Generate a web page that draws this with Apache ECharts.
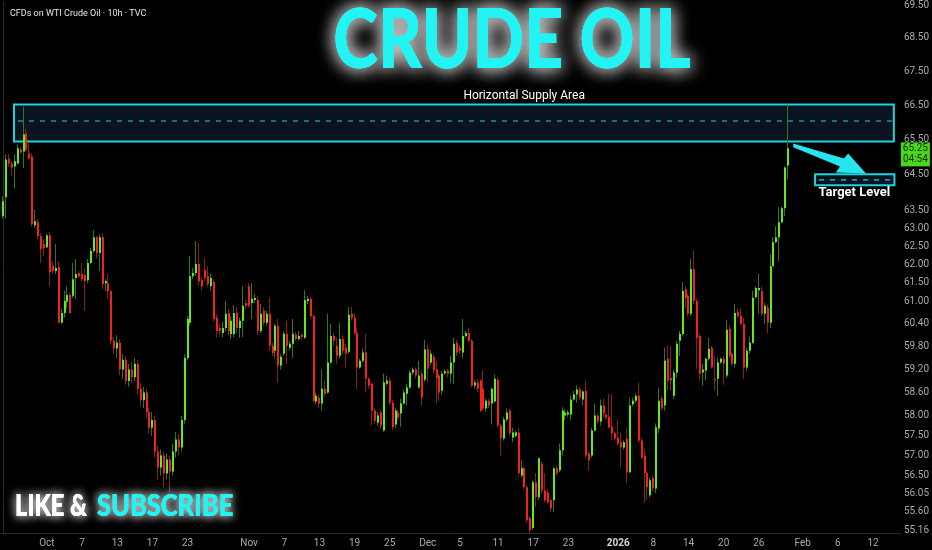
<!DOCTYPE html>
<html><head><meta charset="utf-8">
<script src="https://cdn.jsdelivr.net/npm/echarts@6/dist/echarts.min.js"></script>
<style>html,body{margin:0;padding:0;background:#000;}#c{width:932px;height:550px;}</style>
</head><body><div id="c"></div>
<script>
// ---- data (WTI 10h candles, prices) ----
const opens = [63.33,63.86,64.96,64.82,64.73,64.82,65.22,65.16,65.68,65.10,65.02,63.08,63.16,62.78,62.56,62.47,62.80,61.96,61.82,61.93,60.43,60.69,60.99,61.17,61.15,61.63,61.77,61.74,61.71,61.57,62.04,62.37,62.75,62.31,62.75,61.49,61.49,61.28,59.95,59.75,59.90,59.20,59.45,58.90,59.20,59.00,59.35,58.70,58.40,58.60,58.10,57.70,57.90,57.10,56.70,57.00,56.55,56.90,56.60,57.10,57.40,57.20,57.90,59.50,60.43,61.68,61.77,62.01,61.57,61.85,61.68,61.41,61.52,60.56,60.29,60.16,60.29,60.69,60.13,60.13,60.69,60.29,60.48,60.96,61.41,60.96,61.04,61.04,60.21,60.75,60.43,60.67,59.82,59.69,60.35,59.30,59.61,60.14,59.77,59.87,60.11,60.00,60.11,60.03,61.01,61.07,60.61,58.37,58.47,58.32,58.70,58.60,59.38,60.08,59.82,59.56,60.00,59.77,59.66,60.67,60.56,60.16,59.25,59.43,59.64,58.96,58.83,58.14,57.83,58.09,57.63,58.83,58.91,58.34,57.78,58.09,58.06,58.32,58.57,58.73,59.12,59.20,58.73,59.09,58.93,59.74,59.38,59.53,59.20,59.04,58.65,59.10,59.17,59.09,59.38,59.90,59.77,59.64,60.08,60.16,59.95,58.78,58.86,58.91,58.70,58.19,58.39,58.32,58.37,58.93,57.76,57.43,57.91,58.14,57.45,57.50,57.58,56.50,56.68,56.21,55.45,55.21,56.33,55.96,56.80,56.13,56.08,55.89,55.89,56.68,56.63,57.13,58.01,58.04,58.04,58.42,58.55,58.68,58.42,58.65,57.05,57.00,57.63,58.01,57.86,58.27,58.04,57.98,57.73,57.56,57.45,57.33,57.20,57.43,56.58,58.30,58.39,58.52,57.38,57.00,56.56,56.01,56.43,56.18,57.68,58.45,58.27,59.48,58.98,58.52,59.12,59.95,60.13,61.33,61.15,60.67,61.87,61.01,60.08,59.12,59.17,59.48,59.77,58.96,58.96,59.38,59.48,59.04,60.27,59.61,59.35,60.72,60.61,60.40,59.25,59.69,59.90,61.12,61.30,61.28,60.67,60.83,60.43,61.95,62.61,62.75,63.16,63.55,64.76];
const closes = [63.75,64.93,64.82,64.70,64.88,65.25,65.13,65.65,65.22,64.96,63.11,63.19,62.78,62.42,62.45,62.80,61.79,61.82,61.90,60.43,60.69,61.01,61.17,60.69,61.60,61.74,61.68,61.60,61.55,62.04,62.37,62.75,62.31,62.75,61.47,61.55,61.28,59.95,59.75,59.90,59.20,59.45,58.90,59.20,59.00,59.35,58.70,58.40,58.60,58.10,57.70,57.90,57.10,56.70,57.00,56.55,56.90,56.60,57.10,57.40,57.20,57.90,59.50,60.53,61.68,61.77,62.01,61.55,61.41,61.63,61.47,61.63,60.53,60.21,60.21,60.29,60.67,60.21,60.48,60.69,60.29,60.48,60.88,60.88,60.88,61.07,61.09,60.21,60.67,60.43,60.67,59.82,59.63,60.35,59.30,59.53,60.14,59.82,59.87,60.14,60.00,60.08,60.05,61.04,61.07,60.61,58.39,58.52,58.32,58.70,58.57,59.38,60.08,59.95,59.56,60.00,59.69,59.61,60.64,60.56,60.16,59.25,59.43,59.64,58.96,58.78,58.14,57.88,58.01,57.76,58.86,58.91,58.34,57.71,58.14,57.96,58.32,58.60,58.73,59.12,59.20,59.04,59.04,58.47,59.72,59.22,59.61,59.17,58.98,58.60,59.09,59.15,59.09,59.38,59.87,59.64,59.69,60.08,60.16,59.95,58.78,58.86,58.70,58.14,58.19,58.39,58.27,58.70,58.96,57.76,57.43,57.91,58.09,57.56,57.58,57.58,56.56,56.68,56.21,55.40,55.16,56.33,55.96,56.93,56.13,55.89,55.84,55.69,56.68,56.56,57.13,58.14,58.09,58.09,58.42,58.55,58.68,58.47,58.63,57.00,56.88,57.63,58.01,57.86,58.27,58.06,57.96,57.71,57.56,57.43,57.30,57.20,57.33,56.58,58.27,58.39,58.52,57.38,56.95,56.56,56.21,56.38,56.18,57.71,58.39,58.19,59.43,58.91,58.91,59.12,59.87,60.13,61.28,61.09,60.67,61.87,61.01,60.03,59.09,59.20,59.48,59.74,59.25,58.91,59.38,59.48,59.35,60.24,59.56,59.35,60.69,60.61,60.40,59.25,59.69,59.90,61.10,61.36,61.36,60.67,60.88,60.43,61.95,62.61,62.75,63.16,63.55,64.70,65.25];
const lows = [63.27,63.27,64.73,64.45,64.11,64.79,65.08,64.68,65.16,64.93,63.05,63.00,62.69,62.04,62.23,62.45,61.41,61.74,61.74,60.43,60.40,60.56,60.82,60.67,61.09,61.07,61.63,61.55,60.75,61.49,62.01,62.31,62.17,61.82,61.33,61.28,61.07,59.85,59.60,59.50,59.05,58.95,58.80,58.75,58.85,58.90,58.55,58.25,58.20,57.95,57.55,57.50,56.95,56.40,56.50,56.20,56.40,56.10,56.50,56.95,57.00,57.10,57.80,59.45,60.35,61.60,61.70,61.45,61.30,61.55,61.40,61.30,60.45,60.05,60.10,60.05,60.20,60.10,60.00,60.05,60.15,60.03,60.05,60.80,60.82,60.53,60.95,60.10,60.15,60.35,60.35,59.69,59.55,59.50,58.86,59.20,59.55,59.35,59.70,59.50,59.95,59.95,59.98,60.00,60.93,60.55,58.34,58.30,58.19,58.14,58.52,58.57,59.35,59.82,59.35,59.50,59.60,59.25,59.61,60.48,60.11,58.70,59.22,59.38,58.60,58.70,57.76,57.80,57.75,57.68,57.60,58.78,58.28,57.65,57.70,57.90,57.71,58.28,58.27,58.70,59.05,58.98,58.70,58.27,58.88,58.86,59.30,59.10,58.32,58.39,58.55,59.05,59.00,58.86,58.83,59.55,59.60,59.50,60.03,59.90,58.73,58.70,58.60,58.10,58.14,58.10,58.20,57.78,58.34,57.70,57.00,57.38,57.85,57.50,57.33,57.45,56.50,56.45,56.15,55.35,55.09,55.16,55.72,55.89,56.05,55.84,55.80,55.60,55.60,56.50,56.58,57.00,57.90,57.98,57.88,58.39,58.34,58.40,58.27,56.95,56.63,56.95,57.60,57.80,57.76,57.96,57.90,57.68,57.38,57.38,57.25,56.70,57.15,56.31,56.56,58.24,58.34,57.33,56.90,55.82,55.89,55.96,56.10,56.06,57.56,58.14,58.14,58.65,58.65,58.45,58.98,59.56,60.08,60.82,60.60,60.61,60.93,59.22,58.91,58.78,58.91,59.43,59.22,58.65,58.52,59.35,58.80,58.98,59.50,59.30,59.25,60.55,60.35,58.96,59.17,59.61,59.87,61.07,60.67,60.61,60.40,60.16,60.29,61.95,62.58,62.09,63.13,63.33,64.36];
const highs = [63.89,65.08,65.08,64.88,65.08,65.36,65.30,66.46,65.82,65.39,65.10,63.52,63.25,62.86,62.69,62.83,62.89,62.09,62.56,62.09,60.80,61.28,61.41,61.23,62.04,62.15,61.82,62.04,61.90,62.15,62.45,62.94,62.78,62.83,62.86,61.60,61.74,61.30,60.05,60.10,60.00,59.60,59.55,59.35,59.40,59.50,59.45,58.85,58.75,58.70,58.20,58.10,58.00,57.25,57.15,57.10,57.05,57.00,57.30,57.60,57.55,58.00,59.60,60.60,62.23,61.90,62.64,62.58,61.65,62.17,61.95,61.75,61.60,60.65,60.40,60.45,61.01,60.80,60.60,60.90,60.85,60.56,61.41,61.05,61.49,61.49,61.20,61.15,60.93,60.85,60.75,61.09,59.90,60.40,60.53,59.60,60.20,60.48,59.95,60.53,60.20,60.21,60.15,61.30,61.15,61.12,60.65,58.60,58.55,59.20,58.91,60.67,60.40,60.16,60.03,60.43,60.10,59.87,60.85,60.85,60.67,60.29,59.48,59.74,60.14,59.00,58.86,58.20,58.10,58.15,59.09,59.04,59.00,58.40,58.20,58.15,58.45,58.68,58.83,59.17,59.25,59.25,59.43,59.17,59.98,59.85,59.70,59.60,59.43,59.08,59.15,59.20,59.22,59.56,60.03,59.98,59.85,60.53,60.21,60.29,60.00,58.93,58.95,58.95,59.17,58.45,58.45,58.73,59.06,59.00,57.80,57.98,58.19,58.19,57.70,57.63,57.70,56.88,56.73,56.25,55.50,56.38,56.56,56.95,56.85,56.56,56.15,55.93,56.70,56.75,57.30,58.22,58.17,58.15,58.52,58.65,58.78,58.75,58.65,58.91,57.10,57.70,58.32,58.06,58.42,58.45,58.06,58.57,58.55,57.60,57.91,57.58,57.38,57.68,58.47,58.47,58.57,58.86,57.45,57.18,56.60,56.45,56.50,57.81,58.73,58.52,59.77,59.82,59.82,59.20,59.95,60.21,61.52,61.41,61.20,62.15,62.37,61.07,60.14,59.35,59.51,60.03,59.82,59.56,59.51,59.51,59.56,60.51,60.35,59.65,60.93,60.80,60.82,60.56,59.77,60.08,61.28,61.41,61.74,61.41,60.96,60.93,62.28,62.75,63.05,63.58,63.61,64.73,66.52];
const slotCount = 307;                       // bar slots incl. future space
const xTickIndex = [15,27,39,51,63,84,96,108,120,132,145,156,169,181,193,210,222,234,246,258,273,285,297];
const xTickText  = ['Oct','7','13','17','23','Nov','7','13','19','25','Dec','5','11','17','23','2026','8','14','20','26','Feb','6','12'];
const yTickValues = [69.5,68.5,67.5,66.5,65.5,64.5,63.5,63.0,62.5,62.0,61.5,61.0,60.4,59.8,59.2,58.6,58.0,57.5,57.0,56.5,56.05,55.6,55.16];
const yRange = [55.088, 69.59];
const lastPrice = 65.25, countdown = '04:54';
const supplyZone = {x0: 3.75, x1: 304.1, top: 66.52, bottom: 65.45, mid: 66.04};
const targetZone = {x0: 277.2, x1: 304.3, top: 64.51, bottom: 64.20, mid: 64.35};
const supplyLabel = {x: 177.9, p: 66.78, text: 'Horizontal Supply Area'};
const targetLabel = {x: 290.6, p: 64.00, text: 'Target Level'};
const arrowPts = [[269.75,65.39],[287.1,64.96],[288.5,65.10],[294.6,64.53],[284.3,64.56],[285.7,64.73],[269.75,65.28]];

// ---- build ----
const L = Math.log;
const cats = Array.from({length: slotCount}, (_, i) => String(i));
const tickMap = {}; xTickIndex.forEach((k, j) => tickMap[k] = xTickText[j]);
const candleData = opens.map((o, i) => [i, L(o), L(closes[i]), L(lows[i]), L(highs[i])]);
const CYAN = '#1fd3dc';
const BODY_UP = '#62ea1c', BODY_DN = '#f5221b', WICK_UP = '#2f7a17', WICK_DN = '#86201a';

function candleItem(params, api) {
  const i = api.value(0);
  const o = api.value(1), c = api.value(2);
  const po = api.coord([i, o]), pc = api.coord([i, c]);
  const pl = api.coord([i, api.value(3)]), ph = api.coord([i, api.value(4)]);
  const up = c >= o;
  const cx = Math.round(po[0]);
  const top = Math.min(po[1], pc[1]), bot = Math.max(po[1], pc[1]);
  return {type: 'group', children: [
    {type: 'rect', shape: {x: cx - 1, y: ph[1], width: 1, height: Math.max(1, pl[1] - ph[1])}, style: {fill: up ? WICK_UP : WICK_DN}},
    {type: 'rect', shape: {x: cx - 1, y: top, width: 2, height: Math.max(1, bot - top)}, style: {fill: up ? BODY_UP : BODY_DN}}
  ]};
}
function zoneItem(z) {
  return function (params, api) {
    const a = api.coord([z.x0, L(z.top)]), b = api.coord([z.x1, L(z.bottom)]);
    const m = api.coord([z.x0, L(z.mid)]);
    return {type: 'group', children: [
      {type: 'rect', shape: {x: a[0], y: a[1], width: b[0] - a[0], height: b[1] - a[1]}, style: {fill: '#0b1320', stroke: CYAN, lineWidth: 2}},
      {type: 'line', shape: {x1: a[0] + 4, y1: m[1], x2: b[0] - 2, y2: m[1]}, style: {stroke: CYAN, lineWidth: 1.2, lineDash: [5, 6]}}
    ]};
  };
}
function textItem(t, size, weight) {
  return function (params, api) {
    const p = api.coord([t.x, L(t.p)]);
    return {type: 'text', x: p[0], y: p[1], style: {text: t.text, fill: '#ffffff', font: weight + ' ' + size + 'px Roboto', textAlign: 'center', textVerticalAlign: 'middle'}};
  };
}
function arrowItem(params, api) {
  const pts = arrowPts.map(q => api.coord([q[0], L(q[1])]));
  return {type: 'polygon', shape: {points: pts}, style: {fill: '#25e6ee'}};
}
function tagItem(params, api) {
  const p = api.coord([slotCount - 0.5, L(lastPrice)]);
  return {type: 'group', children: [
    {type: 'rect', shape: {x: p[0], y: p[1] - 6, width: 29, height: 24}, style: {fill: '#4bd61a'}},
    {type: 'text', x: p[0] + 14.5, y: p[1], style: {text: lastPrice.toFixed(2), fill: '#0d2a06', font: '10px Roboto', textAlign: 'center', textVerticalAlign: 'middle'}},
    {type: 'text', x: p[0] + 14.5, y: p[1] + 11, style: {text: countdown, fill: '#0d2a06', font: '10px Roboto', textAlign: 'center', textVerticalAlign: 'middle'}}
  ]};
}
const annot = (fn, z) => ({type: 'custom', xAxisIndex: 1, yAxisIndex: 0, renderItem: fn, data: [[0, L(60)]], clip: false, z: z, silent: true});

function glowText(txt, x, y, sx, font, fill, blur, align) {
  const st = {text: txt, font: font, fill: fill, textAlign: align, textVerticalAlign: 'middle',
              textShadowBlur: blur, textShadowColor: 'rgba(225,225,225,0.9)', textShadowOffsetX: 0, textShadowOffsetY: 0};
  const base = {type: 'text', x: x, y: y, scaleX: sx, z: 100, style: st};
  return [base, Object.assign({}, base, {z: 101}), Object.assign({}, base, {z: 102, style: Object.assign({}, st, {textShadowBlur: 0, textShadowColor: 'transparent'})})];
}

const chart = echarts.init(document.getElementById('c'), null, {renderer: 'canvas'});
chart.setOption({
  backgroundColor: '#000000',
  animation: false,
  title: [{text: 'CFDs on WTI Crude Oil · 10h · TVC', left: 5, top: 4, textStyle: {color: '#e6e6e6', fontSize: 9, fontWeight: 'normal', fontFamily: 'Roboto'}}],
  grid: {left: 1, right: 29, top: 0, bottom: 17},
  xAxis: [
    {type: 'category', data: cats, boundaryGap: true,
     axisLine: {show: true, lineStyle: {color: '#2a2a2e'}}, axisTick: {show: false}, splitLine: {show: false},
     axisLabel: {interval: 0, margin: 5, fontSize: 10, color: '#a8aab0', fontFamily: 'Roboto',
       formatter: (v, idx) => { const t = tickMap[idx]; if (!t) return ''; return t === '2026' ? '{b|2026}' : t; },
       rich: {b: {fontWeight: 'bold', color: '#d6d6d6', fontSize: 10, fontFamily: 'Roboto'}}}},
    {type: 'value', min: -0.5, max: slotCount - 0.5, show: false}
  ],
  yAxis: [{type: 'value', position: 'right', min: L(yRange[0]), max: L(yRange[1]),
    axisLine: {show: true, lineStyle: {color: '#2a2a2e'}}, axisTick: {show: false}, splitLine: {show: false},
    axisLabel: {customValues: yTickValues.map(L), formatter: v => Math.exp(v).toFixed(2), color: '#a8aab0', fontSize: 10, margin: 3, fontFamily: 'Roboto'}}],
  graphic: [].concat(
    glowText('CRUDE OIL', 512, 42, 0.84, '900 81px Lato', '#22f3f3', 18, 'center'),
    glowText('LIKE &', 15, 506, 0.76, '900 31px Lato', '#ffffff', 10, 'left'),
    glowText('SUBSCRIBE', 97, 506, 0.82, '900 31px Lato', '#22f3f3', 10, 'left')
  ),
  series: [
    annot(zoneItem(supplyZone), 1),
    annot(zoneItem(targetZone), 1),
    {type: 'custom', name: 'WTI', renderItem: candleItem, data: candleData, encode: {x: 0, y: [1, 2, 3, 4]}, z: 5, silent: true},
    annot(textItem(supplyLabel, 12, 'normal'), 6),
    annot(textItem(targetLabel, 13, 'bold'), 6),
    annot(arrowItem, 7),
    annot(tagItem, 8)
  ]
});
</script></body></html>
